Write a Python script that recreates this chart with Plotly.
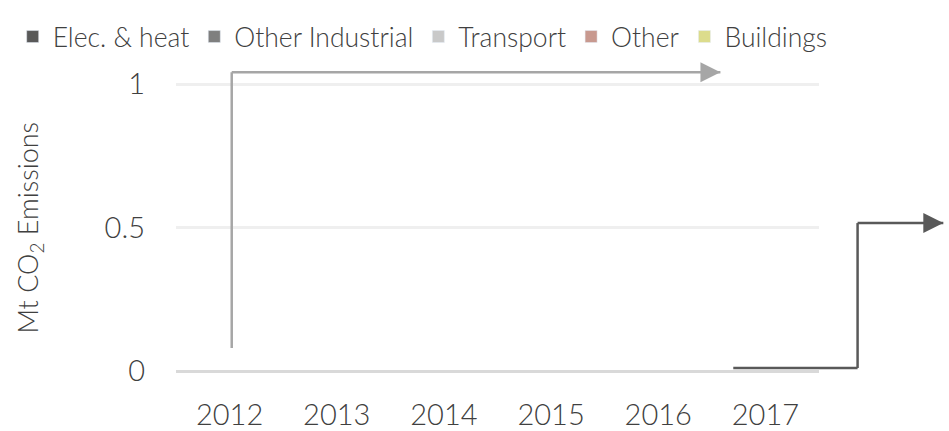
import plotly.graph_objects as go

years = ["2012", "2013", "2014", "2015", "2016", "2017"]
elec_heat = [0, 0, 0, 0, 0, 0]
other_industrial = [0, 0, 0, 0, 0, 0]
transport = [0, 0, 0, 0, 0, 0]
other = [0, 0, 0, 0, 0, 0]
buildings = [0, 0, 0, 0, 0, 0]

series_names = ["Elec. & heat", "Other Industrial", "Transport", "Other", "Buildings"]
series_values = [elec_heat, other_industrial, transport, other, buildings]
series_colors = ["#595959", "#7f7f7f", "#c9c9c9", "#c8998f", "#dcdc8c"]

y_ticks = [0, 0.5, 1]
y_tick_labels = ["0", "0.5", "1"]
y_title = "Mt CO<sub>2</sub> Emissions"

# decorative arrow paths: (category index, y value)
gray_arrow = [(0.02, 0.08), (0.02, 1.042), (4.58, 1.042)]
dark_arrow = [(4.70, 0.0105), (5.86, 0.0105), (5.86, 0.516), (6.66, 0.516)]

x_range = [-0.5, 5.5]
FONT = "Lato"
TXT = "#404040"

fig = go.Figure()
for name, vals, col in zip(series_names, series_values, series_colors):
    fig.add_trace(go.Bar(x=years, y=vals, name=name, marker_color=col))


def to_paper(i):
    return (i - x_range[0]) / (x_range[1] - x_range[0])


shapes = []
annotations = []
for pts, col in [(gray_arrow, "#a6a6a6"), (dark_arrow, "#595959")]:
    for (x0, y0), (x1, y1) in zip(pts[:-1], pts[1:]):
        shapes.append(dict(type="line", xref="paper", yref="y",
                           x0=to_paper(x0), y0=y0, x1=to_paper(x1), y1=y1,
                           line=dict(color=col, width=2.5)))
    tx, ty = pts[-1]
    annotations.append(dict(xref="paper", yref="y", x=to_paper(tx), y=ty,
                            ax=-20, ay=0, text="", showarrow=True,
                            arrowhead=2, arrowsize=1.6, arrowwidth=2.5,
                            arrowcolor=col, standoff=0))

annotations.append(dict(xref="paper", yref="paper", x=-0.228, y=0.478,
                        xanchor="center", yanchor="middle", textangle=-90,
                        text=y_title, showarrow=False,
                        font=dict(size=27, color=TXT, family=FONT, weight=300)))

fig.update_layout(
    barmode="stack",
    width=949, height=431,
    margin=dict(l=176, r=130, t=70, b=60, autoexpand=False),
    paper_bgcolor="white", plot_bgcolor="white",
    font=dict(family=FONT, color=TXT, weight=300),
    showlegend=True,
    legend=dict(orientation="h", x=-0.254, xanchor="left", y=1.19, yanchor="top",
                traceorder="normal",
                font=dict(size=26.5, color=TXT, family=FONT, weight=300),
                itemwidth=30, tracegroupgap=0, bgcolor="rgba(0,0,0,0)"),
    shapes=shapes,
    annotations=annotations,
    xaxis=dict(type="category", range=x_range, showgrid=False, zeroline=False,
               showline=False, ticks="", automargin=False,
               tickfont=dict(size=29, color=TXT, family=FONT, weight=300),
               ticklabelstandoff=24),
    yaxis=dict(range=[0, 1.05], tickvals=y_ticks, ticktext=y_tick_labels,
               showgrid=True, gridcolor="#efefef", gridwidth=3,
               zeroline=True, zerolinecolor="#d9d9d9", zerolinewidth=3,
               showline=False, ticks="", automargin=False,
               tickfont=dict(size=29, color=TXT, family=FONT, weight=300),
               ticklabelstandoff=30),
)

fig.write_html("out.html", post_script="document.body.style.margin='0';",
               config={"displayModeBar": False})
